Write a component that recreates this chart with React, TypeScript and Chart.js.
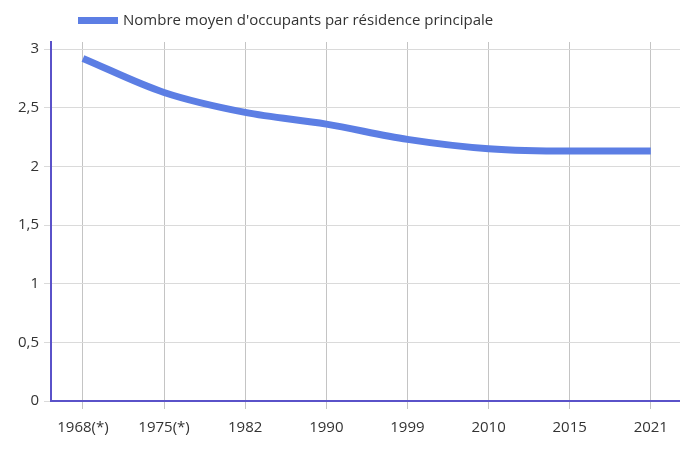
import React, { useEffect, useRef } from "react";
import { Chart, registerables } from "chart.js";

Chart.register(...registerables);

const categories = ["1968(*)", "1975(*)", "1982", "1990", "1999", "2010", "2015", "2021"];
const occupants = [2.92, 2.63, 2.46, 2.36, 2.23, 2.15, 2.13, 2.13];
const seriesLabel = "Nombre moyen d'occupants par résidence principale";
const yMin = 0;
const yMax = 3.06;
const yStep = 0.5;
const xMin = -0.394;
const xMax = 7.36;

const FONT = "'Open Sans', 'Noto Sans', sans-serif";
const LINE_COLOR = "#5c7ee4";
const AXIS_COLOR = "#5a52c9";

const legendPlugin = {
  id: "customLegend",
  afterDraw(chart: any) {
    const ctx = chart.ctx;
    const ds = chart.data.datasets[0];
    ctx.save();
    ctx.fillStyle = ds.borderColor;
    ctx.fillRect(78, 17, 40, 7);
    ctx.font = `15px ${FONT}`;
    ctx.fillStyle = "#333333";
    ctx.textBaseline = "middle";
    ctx.textAlign = "left";
    ctx.fillText(ds.label, 123, 21);
    ctx.restore();
  },
};

export default function App() {
  const ref = useRef<HTMLCanvasElement | null>(null);

  useEffect(() => {
    document.body.style.margin = "0";
    const canvas = ref.current;
    if (!canvas) return;
    const chart = new Chart(canvas, {
      type: "line",
      data: {
        datasets: [
          {
            label: seriesLabel,
            data: occupants.map((v, i) => ({ x: i, y: v })),
            borderColor: LINE_COLOR,
            backgroundColor: LINE_COLOR,
            borderWidth: 7,
            pointRadius: 0,
            pointHoverRadius: 0,
            cubicInterpolationMode: "monotone",
            fill: false,
          },
        ],
      },
      options: {
        animation: false,
        responsive: false,
        layout: { padding: { top: 42, right: 0, left: 0, bottom: 0 } },
        plugins: {
          legend: { display: false },
          tooltip: { enabled: false },
        },
        scales: {
          x: {
            type: "linear",
            min: xMin,
            max: xMax,
            afterFit(scale: any) {
              scale.height = 62;
            },
            ticks: {
              stepSize: 1,
              includeBounds: false,
              autoSkip: false,
              maxRotation: 0,
              padding: 10,
              color: "#333333",
              font: { family: FONT, size: 15 },
              callback: (v: any) => categories[Number(v)] ?? "",
            },
            grid: { color: "#c4c4c4", tickLength: 8, lineWidth: 1 },
            border: { color: AXIS_COLOR, width: 2 },
          },
          y: {
            min: yMin,
            max: yMax,
            afterFit(scale: any) {
              scale.width = 51;
            },
            ticks: {
              stepSize: yStep,
              includeBounds: false,
              padding: 5,
              color: "#333333",
              font: { family: FONT, size: 15 },
              callback: (v: any) => String(v).replace(".", ","),
            },
            grid: { color: "#dadada", tickLength: 7, lineWidth: 1 },
            border: { color: AXIS_COLOR, width: 2 },
          },
        },
      },
      plugins: [legendPlugin],
    } as any);
    return () => chart.destroy();
  }, []);

  return (
    <div style={{ width: 680, height: 463, background: "#ffffff" }}>
      <canvas ref={ref} width={680} height={463} style={{ display: "block" }} />
    </div>
  );
}
